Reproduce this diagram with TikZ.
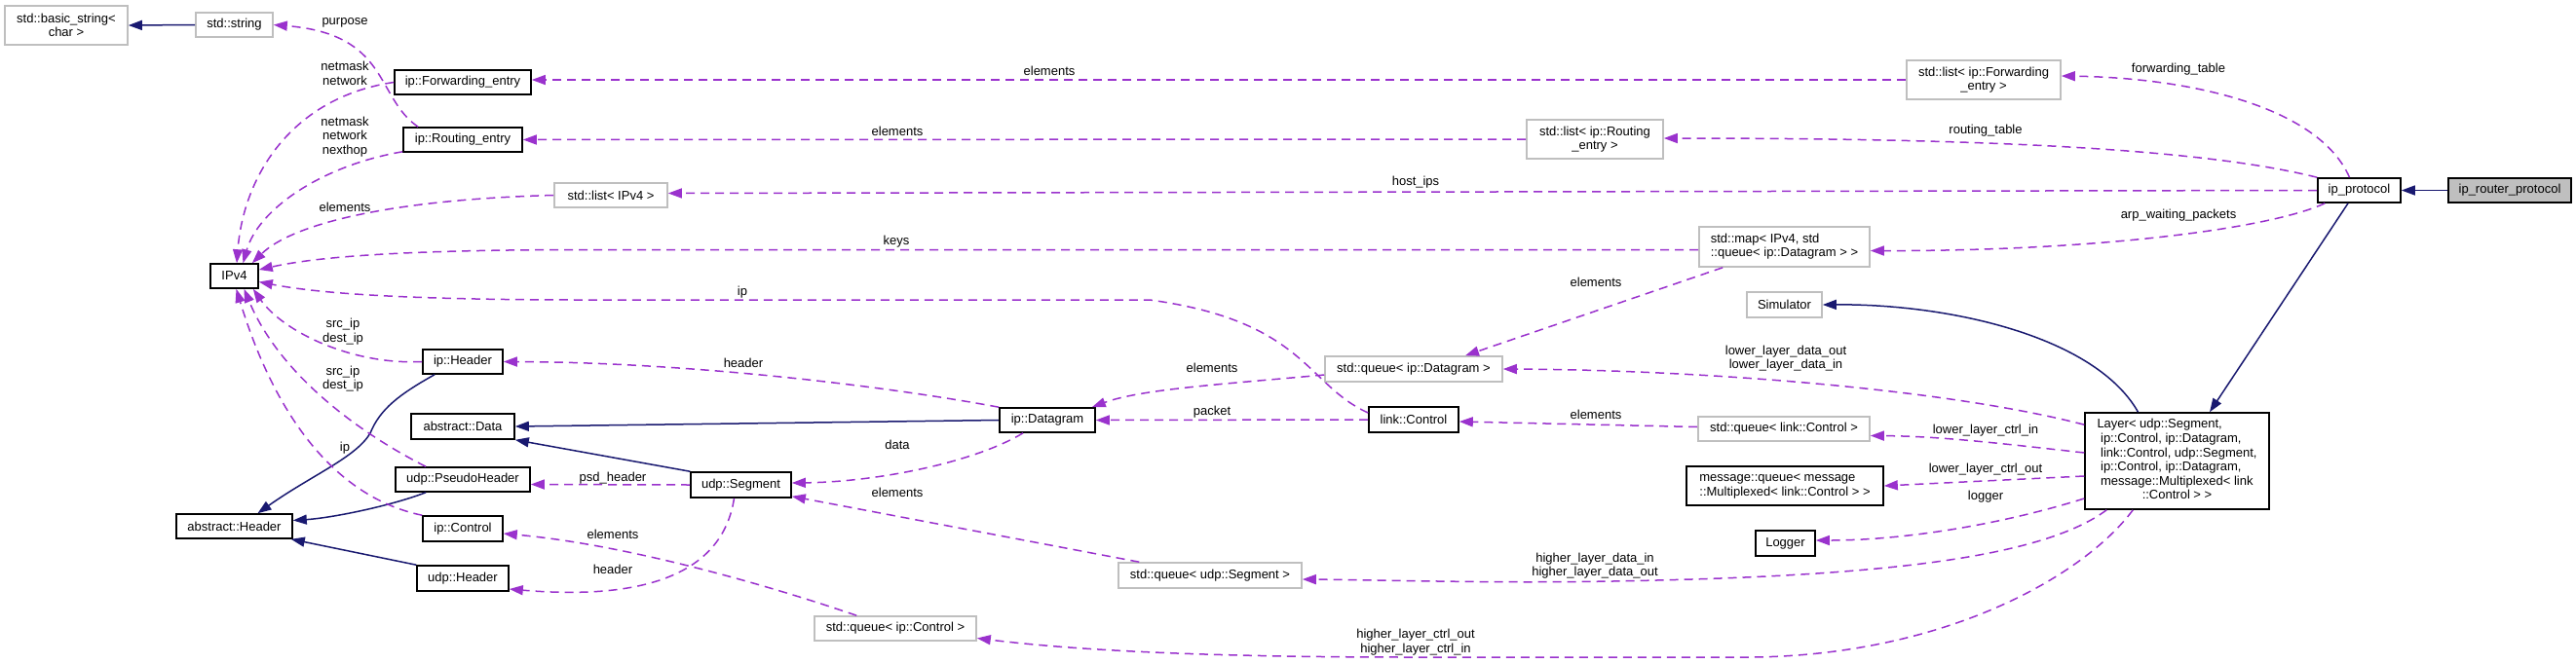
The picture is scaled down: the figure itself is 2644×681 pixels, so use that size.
\documentclass[tikz,border=0pt]{standalone}
\usepackage{fontspec}
\setmainfont{Liberation Sans}
\usetikzlibrary{arrows.meta,calc}
\definecolor{navy}{HTML}{191970}
\definecolor{purp}{HTML}{9A32CD}
\definecolor{grayb}{HTML}{BFBFBF}
\newcommand\lbl{\fontsize{13}{14.6}\selectfont}
\begin{document}
\begin{tikzpicture}[x=1pt,y=-1pt,
  cls/.style={draw=black, line width=1.6pt, inner sep=0pt, font=\lbl, align=center, minimum height=25pt},
  ext/.style={cls, draw=grayb},
  lab/.style={font=\lbl, inner sep=0pt, align=center},
  inh/.style={draw=navy, line width=1.5pt, -{Triangle[length=14pt,width=10pt]}},
  use/.style={draw=purp, line width=1.5pt, dash pattern=on 9pt off 6pt, -{Triangle[length=14pt,width=10pt]}}]
\useasboundingbox (0,0) rectangle (2644,681);
\fill[white] (0,0) rectangle (2644,681);

% class nodes
\node[ext, minimum width=126pt, minimum height=40pt] (bstr) at (68,26) {std::basic\_string<\\char >};
\node[ext, minimum width=79pt] (sstr) at (240.5,25.5) {std::string};
\node[cls, minimum width=140pt] (fwd) at (475,84.5) {ip::Forwarding\_entry};
\node[cls, minimum width=122pt] (rte) at (475,143.5) {ip::Routing\_entry};
\node[ext, minimum width=116pt] (lipv4) at (627,200.5) {std::list< IPv4 >};
\node[cls, minimum width=49pt] (ipv4) at (240.5,283.5) {IPv4};
\node[cls, minimum width=82pt] (iph) at (475,371.5) {ip::Header};
\node[cls, minimum width=106pt, minimum height=26pt] (adata) at (475,438) {abstract::Data};
\node[cls, minimum width=138pt] (psh) at (475,492.5) {udp::PseudoHeader};
\node[cls, minimum width=119pt] (ahdr) at (240.5,540.5) {abstract::Header};
\node[cls, minimum width=82pt, minimum height=26pt] (ipc) at (475,543) {ip::Control};
\node[cls, minimum width=94pt, minimum height=26pt] (udph) at (475,594) {udp::Header};
\node[cls, minimum width=103pt, minimum height=26pt] (useg) at (760.5,498) {udp::Segment};
\node[ext, minimum width=166pt] (qipc) at (919,645.5) {std::queue< ip::Control >};
\node[cls, minimum width=98pt] (dgram) at (1075,431.5) {ip::Datagram};
\node[cls, minimum width=92pt, minimum height=26pt] (lctl) at (1451,431) {link::Control};
\node[ext, minimum width=182pt, minimum height=26pt] (qdg) at (1451,379) {std::queue< ip::Datagram >};
\node[ext, minimum width=188pt, minimum height=26pt] (qseg) at (1242,591) {std::queue< udp::Segment >};
\node[ext, minimum width=140pt, minimum height=40pt] (lrte) at (1637,143) {std::list< ip::Routing\\\_entry >};
\node[ext, minimum width=158pt, minimum height=40pt] (lfwd) at (2036,82) {std::list< ip::Forwarding\\\_entry >};
\node[ext, minimum width=175pt, minimum height=41pt] (map) at (1831.5,253.5) {\begin{tabular}{@{}l@{}}std::map< IPv4, std\\\multicolumn{1}{@{}c@{}}{::queue< ip::Datagram > >}\end{tabular}};
\node[ext, minimum width=77pt, minimum height=26pt] (sim) at (1831.5,313) {Simulator};
\node[ext, minimum width=176pt] (qlc) at (1831,440.5) {std::queue< link::Control >};
\node[cls, minimum width=202pt, minimum height=40pt] (mq) at (1832,499) {\begin{tabular}{@{}l@{}}message::queue< message\\\multicolumn{1}{@{}c@{}}{::Multiplexed< link::Control > >}\end{tabular}};
\node[cls, minimum width=61pt, minimum height=26pt] (logger) at (1832.5,558) {Logger};
\node[cls, minimum width=189pt, minimum height=99pt] (layer) at (2234.5,473.5) {\begin{tabular}{@{}l@{}}Layer< udp::Segment,\\\ ip::Control, ip::Datagram,\\\ link::Control, udp::Segment,\\\ ip::Control, ip::Datagram,\\\ message::Multiplexed< link\\\multicolumn{1}{@{}c@{}}{::Control > >}\end{tabular}};
\node[cls, minimum width=85pt] (ipp) at (2421.5,195.5) {ip\_protocol};
\node[cls, fill=grayb, minimum width=126pt] (iprp) at (2576,195.5) {ip\_router\_protocol};

% inheritance edges
\draw[inh] (sstr.west) -- (bstr.east);
\draw[inh] (iprp.west) -- (ipp.east);
\draw[inh] ($(ipp.south)+(-11.5,0)$) -- ($(layer.north)+(33.5,0)$);
\draw[inh] ($(layer.north)+(-40,0)$) .. controls (2150,345) and (2000,312) .. (sim.east);
\draw[inh] (dgram.west) -- (adata.east);
\draw[inh] (useg.north west) -- (adata.south east);
\draw[inh] ($(iph.south)+(-29,0)$) .. controls (410,405) and (390,420) .. (380,445) .. controls (365,470) and (320,488) .. ($(ahdr.north)+(24,0)$);
\draw[inh] ($(psh.south)+(-38,0)$) .. controls (400,520) and (340,532) .. ($(ahdr.east)+(0,-6)$);
\draw[inh] (udph.north west) -- ($(ahdr.south east)+(-2,0)$);

% usage edges
\draw[use] ($(rte.north)+(-46,0)$) .. controls (385,100) and (400,35) .. (sstr.east);
\draw[use] (fwd.west) .. controls (300,100) and (250,180) .. ($(ipv4.north)+(2.5,0)$);
\draw[use] ($(rte.south west)+(0,-1)$) .. controls (330,170) and (265,215) .. ($(ipv4.north)+(9,0)$);
\draw[use] (lipv4.west) .. controls (400,205) and (300,230) .. ($(ipv4.north east)+(-7,0)$);
\draw[use] ($(map.west)+(0,3)$) -- (600,256.5) .. controls (400,256.5) and (320,265) .. ($(ipv4.east)+(0,-6.5)$);
\draw[use] ($(lctl.west)+(0,-7)$) .. controls (1340,395) and (1340,330) .. (1180,308) -- (600,308) .. controls (400,308) and (320,300) .. ($(ipv4.east)+(0,6)$);
\draw[use] (iph.west) .. controls (360,375) and (290,340) .. ($(ipv4.south east)+(-6,0)$);
\draw[use] ($(psh.north)+(-38,0)$) .. controls (360,440) and (285,380) .. ($(ipv4.south)+(10,0)$);
\draw[use] (ipc.north west) .. controls (340,510) and (280,420) .. ($(ipv4.south)+(2,0)$);
\draw[use] (dgram.north west) .. controls (900,395) and (700,372) .. (iph.east);
\draw[use] ($(dgram.south)+(-25,0)$) .. controls (1000,475) and (900,495) .. ($(useg.east)+(0,-2)$);
\draw[use] (useg.west) -- ($(psh.east)+(0,5)$);
\draw[use] ($(useg.south)+(-7,0)$) .. controls (740,600) and (640,615) .. ($(udph.east)+(0,11)$);
\draw[use] ($(qseg.north west)+(22,0)$) -- ($(useg.south east)+(0,-2)$);
\draw[use] ($(qipc.north west)+(44,0)$) .. controls (800,605) and (650,560) .. ($(ipc.east)+(0,5)$);
\draw[use] ($(qdg.west)+(0,6)$) .. controls (1250,395) and (1170,400) .. ($(dgram.north east)+(-4,0)$);
\draw[use] (lctl.west) -- (dgram.east);
\draw[use] ($(map.south west)+(25,0)$) -- ($(qdg.north)+(53,0)$);
\draw[use] ($(qlc.west)+(0,-2)$) -- ($(lctl.east)+(0,2)$);
\draw[use] ($(layer.north west)+(0,13)$) .. controls (2000,400) and (1750,380) .. (qdg.east);
\draw[use] ($(layer.west)+(0,-8.5)$) .. controls (2050,455) and (1990,448) .. ($(qlc.east)+(0,7)$);
\draw[use] ($(layer.west)+(0,15.5)$) -- (mq.east);
\draw[use] ($(layer.west)+(0,38.5)$) .. controls (2050,540) and (1950,555) .. ($(logger.east)+(0,-3)$);
\draw[use] ($(layer.south west)+(23,0)$) .. controls (2100,570) and (1950,590) .. (1700,596) .. controls (1550,600) and (1450,596) .. ($(qseg.east)+(0,4)$);
\draw[use] ($(layer.south west)+(50,0)$) .. controls (2140,590) and (2000,672) .. (1800,675) -- (1450,675) .. controls (1200,675) and (1080,665) .. ($(qipc.east)+(0,10)$);
\draw[use] ($(ipp.north)+(-10,0)$) .. controls (2380,110) and (2250,80) .. ($(lfwd.east)+(0,-4)$);
\draw[use] (ipp.north west) .. controls (2250,150) and (2000,142) .. ($(lrte.east)+(0,-1)$);
\draw[use] (ipp.west) -- ($(lipv4.east)+(0,-2)$);
\draw[use] ($(ipp.south west)+(8,0)$) .. controls (2330,235) and (2150,258) .. ($(map.east)+(0,4)$);
\draw[use] (lfwd.west) -- ($(fwd.east)+(0,-2.5)$);
\draw[use] (lrte.west) -- (rte.east);

% edge labels
\node[lab] (t1) at (354,23) {purpose};
\node[lab] (t2) at (354,75.5) {netmask\\network};
\node[lab] (t3) at (354,140.5) {netmask\\network\\nexthop};
\node[lab] (t4) at (354,213) {elements};
\node[lab] (t5) at (1077,73) {elements};
\node[lab] (t6) at (921,135) {elements};
\node[lab] (t7) at (1453,187) {host\_ips};
\node[lab] (t8) at (2236,71) {forwarding\_table};
\node[lab] (t9) at (2038,134) {routing\_table};
\node[lab] (t10) at (2236,221) {arp\_waiting\_packets};
\node[lab] (t11) at (920,248) {keys};
\node[lab] (t12) at (762,300) {ip};
\node[lab] (t13) at (1638,290) {elements};
\node[lab] (t14) at (352,340.5) {src\_ip\\dest\_ip};
\node[lab] (t15) at (352,389) {src\_ip\\dest\_ip};
\node[lab] (t16) at (763,373) {header};
\node[lab] (t17) at (354,460) {ip};
\node[lab] (t18) at (921,457) {data};
\node[lab] (t19) at (1833,368) {lower\_layer\_data\_out\\lower\_layer\_data\_in};
\node[lab] (t20) at (1244,378) {elements};
\node[lab] (t21) at (1244,423) {packet};
\node[lab] (t22) at (1638,426) {elements};
\node[lab] (t23) at (2038,442) {lower\_layer\_ctrl\_in};
\node[lab] (t24) at (2038,482) {lower\_layer\_ctrl\_out};
\node[lab] (t25) at (629,491) {psd\_header};
\node[lab] (t26) at (921,506) {elements};
\node[lab] (t27) at (2038,510) {logger};
\node[lab] (t28) at (629,549) {elements};
\node[lab] (t29) at (1637,581) {higher\_layer\_data\_in\\higher\_layer\_data\_out};
\node[lab] (t30) at (629,585) {header};
\node[lab] (t31) at (1453,659.5) {higher\_layer\_ctrl\_out\\higher\_layer\_ctrl\_in};
\end{tikzpicture}
\end{document}
